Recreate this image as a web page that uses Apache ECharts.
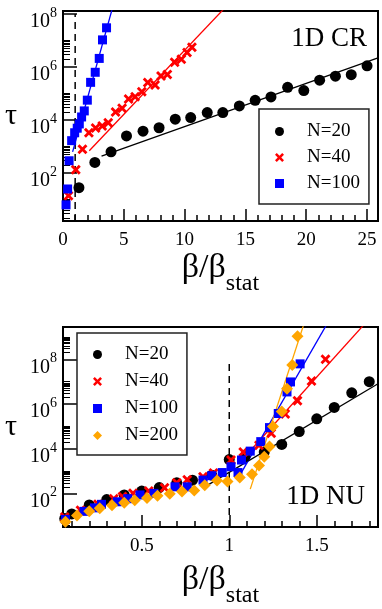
<!DOCTYPE html>
<html>
<head>
<meta charset="utf-8">
<script src="https://cdn.jsdelivr.net/npm/echarts@6/dist/echarts.min.js"></script>
<style>
html, body { margin: 0; padding: 0; background: #fff; }
#main { width: 382px; height: 609px; }
</style>
</head>
<body>
<div id="main"></div>
<script>
// ---- top panel: 1D CR ----
var crX20 = [1.31, 2.62, 3.95, 5.22, 6.58, 7.9, 9.23, 10.5, 11.86, 13.14, 14.5, 15.8, 17.1, 18.47, 19.8, 21.1, 22.4, 23.7, 25.0]
var crTau20 = [28, 250, 630, 2500, 3800, 5100, 10700, 12300, 19000, 19000, 34000, 55000, 74000, 170000, 129000, 316000, 447000, 513000, 1100000]
var crX40 = [0.45, 1.05, 1.6, 2.13, 2.68, 3.22, 3.72, 4.32, 4.86, 5.39, 5.93, 6.48, 6.97, 7.57, 8.06, 8.58, 9.18, 9.73, 10.2, 10.6]
var crTau40 = [14, 132, 780, 3300, 5000, 5900, 7900, 20000, 27500, 62000, 76000, 117000, 257000, 209000, 457000, 525000, 1.5e6, 1.95e6, 3.5e6, 5.5e6]
var crX100 = [0.25, 0.38, 0.5, 0.71, 0.96, 1.17, 1.34, 1.53, 1.75, 2.0, 2.27, 2.65, 2.98, 3.25, 3.58]
var crTau100 = [6.3, 25, 290, 1660, 3300, 4900, 7100, 13000, 22000, 56000, 263000, 630000, 2.1e6, 1.05e7, 3.0e7]
// fitted lines (end points)
var crFitX20 = [3.17, 25.9], crFitTau20 = [437, 2.2e6]
var crFitX40 = [2.16, 13.5], crFitTau40 = [690, 2.1e8]
var crFitX100 = [0.79, 4.2], crFitTau100 = [630, 2.8e8]
var crRangeY = [1.55, 1.29e8]
var crRangeX = [0, 25.9]

// ---- bottom panel: 1D NU ----
var nuX20 = [0.06, 0.1, 0.2, 0.3, 0.4, 0.5, 0.6, 0.7, 0.79, 0.9, 1.0, 1.09, 1.2, 1.3, 1.4, 1.5, 1.6, 1.7, 1.8]
var nuTau20 = [7.6, 12.3, 31, 54, 87, 129, 186, 302, 398, 660, 3300, 4500, 7200, 15800, 59000, 219000, 708000, 3.2e6, 1.0e7]
var nuX40 = [0.06, 0.15, 0.25, 0.34, 0.39, 0.45, 0.54, 0.63, 0.7, 0.76, 0.85, 0.91, 1.01, 1.08, 1.17, 1.24, 1.32, 1.39, 1.47, 1.55]
var nuTau40 = [9, 18, 33, 59, 74, 102, 129, 182, 302, 417, 562, 830, 3160, 7200, 14500, 50000, 363000, 1.4e6, 1.07e7, 1.0e8]
var nuX100 = [0.064, 0.17, 0.23, 0.27, 0.36, 0.42, 0.49, 0.57, 0.69, 0.76, 0.85, 0.9, 0.96, 1.01, 1.05, 1.07, 1.12, 1.18, 1.23, 1.28, 1.33, 1.35, 1.405]
var nuTau100 = [7, 16, 23, 33, 43, 59, 87, 102, 200, 200, 400, 630, 870, 1580, 870, 3160, 7900, 21000, 89000, 380000, 3.5e6, 9.8e6, 6.3e7]
var nuX200 = [0.064, 0.13, 0.2, 0.26, 0.33, 0.4, 0.46, 0.53, 0.59, 0.66, 0.73, 0.8, 0.86, 0.93, 0.99, 1.06, 1.13, 1.17, 1.2, 1.23, 1.25, 1.3, 1.33, 1.36, 1.39]
var nuTau200 = [5.5, 10.5, 16, 22, 30, 39, 50, 63, 79, 98, 123, 138, 234, 380, 347, 525, 725, 1780, 4470, 12600, 100000, 468000, 4.8e6, 5.6e7, 1.07e9]
var nuFitX20 = [0.86, 1.85], nuFitTau20 = [200, 8.1e6]
var nuFitX40 = [1.08, 1.8], nuFitTau40 = [3700, 6.5e9]
var nuFitX100 = [1.07, 1.56], nuFitTau100 = [890, 4e9]
var nuFitX200 = [1.12, 1.44], nuFitTau200 = [158, 8e9]
var nuRangeY = [3.2, 2.8e9]
var nuRangeX = [0.05, 1.85]

// ticks
var majorY = [1e2, 1e4, 1e6, 1e8]
var nuMajorX = [0.5, 1, 1.5]
var nuMinorX = [0.1, 0.2, 0.3, 0.4, 0.6, 0.7, 0.8, 0.9, 1.1, 1.2, 1.3, 1.4, 1.6, 1.7, 1.8]
var statX = [1, 1]
var statTauTop = 1e8

var minorY = []
;[0, 2, 4, 6, 8].forEach(function (e) {
    for (var k = 2; k <= 10; k++) minorY.push(k * Math.pow(10, e))
})

var FONT = "'Liberation Serif', 'DejaVu Serif', serif"
var crossPath = 'path://M0,2L2,0L5,3L8,0L10,2L7,5L10,8L8,10L5,7L2,10L0,8L3,5Z'

function zip(xs, ys) {
    return xs.map(function (x, i) { return [x, ys[i]] })
}

function pts(name, xs, ys, xi, yi, symbol, size, color) {
    return {
        name: name, type: 'scatter', xAxisIndex: xi, yAxisIndex: yi,
        data: zip(xs, ys), symbol: symbol, symbolSize: size,
        itemStyle: { color: color, opacity: 1 }, z: 3
    }
}

function fit(xs, ys, xi, yi, color) {
    return {
        type: 'line', xAxisIndex: xi, yAxisIndex: yi, data: zip(xs, ys),
        showSymbol: false, symbol: 'none', silent: true, clip: true,
        lineStyle: { color: color, width: 1.3 }, z: 2
    }
}

function dashed(ymin, xi, yi) {
    return {
        type: 'line', xAxisIndex: xi, yAxisIndex: yi,
        data: zip(statX, [ymin, statTauTop]), symbol: 'none', silent: true,
        lineStyle: { color: '#000', width: 1.5, type: [7, 5] }, z: 1
    }
}

var yLabel = {
    fontFamily: FONT, color: '#000', margin: 6, padding: [10, 0, 0, 0],
    customValues: majorY,
    formatter: function (v) {
        return '{b|10}{e|' + Math.round(Math.log10(v)) + '}'
    },
    rich: {
        b: { fontFamily: FONT, fontSize: 20, color: '#000', verticalAlign: 'bottom' },
        e: { fontFamily: FONT, fontSize: 14, color: '#000', verticalAlign: 'bottom', padding: [0, 0, 12, 0] }
    }
}

function yMain(range, grid) {
    return {
        type: 'log', gridIndex: grid, min: range[0], max: range[1], position: 'left',
        name: 'τ', nameLocation: 'middle', nameRotate: 0, nameGap: 46,
        nameTextStyle: { fontFamily: FONT, fontSize: 30, color: '#000' },
        axisLine: { lineStyle: { color: '#000', width: 2 } },
        axisTick: { inside: true, length: 14, customValues: majorY, lineStyle: { color: '#000', width: 1.5 } },
        axisLabel: yLabel,
        splitLine: { show: false }
    }
}

function yMinor(range, grid) {
    return {
        type: 'log', gridIndex: grid, min: range[0], max: range[1], position: 'left',
        axisLine: { show: false },
        axisTick: { inside: true, length: 7, customValues: minorY, lineStyle: { color: '#000', width: 1 } },
        axisLabel: { show: false },
        splitLine: { show: false }
    }
}

var xName = '{a|β/β}{s|stat}'
var xNameStyle = {
    rich: {
        a: { fontFamily: FONT, fontSize: 34, color: '#000', verticalAlign: 'top', padding: [0, 0, 11, 0] },
        s: { fontFamily: FONT, fontSize: 24, color: '#000', verticalAlign: 'bottom' }
    }
}
var xLabel = { fontFamily: FONT, fontSize: 19, color: '#000', margin: 10 }

var option = {
    animation: false,
    backgroundColor: '#fff',
    textStyle: { fontFamily: FONT },
    title: [
        { text: '1D CR', right: 10, top: 20, textStyle: { fontFamily: FONT, fontSize: 27, fontWeight: 'normal', color: '#000' } },
        { text: '1D NU', right: 12, top: 478, textStyle: { fontFamily: FONT, fontSize: 27, fontWeight: 'normal', color: '#000' } }
    ],
    grid: [
        { left: 63, right: 4, top: 11, bottom: 388, show: true, borderColor: '#000', borderWidth: 2 },
        { left: 63, right: 4, top: 327, bottom: 72, show: true, borderColor: '#000', borderWidth: 2 }
    ],
    legend: [
        {
            data: ['N=20', 'N=40', 'N=100'], orient: 'vertical', left: 259, top: 109,
            padding: [13, 9, 11, 16], itemGap: 7, itemWidth: 9, itemHeight: 9,
            borderColor: '#222', borderWidth: 1.5, backgroundColor: '#fff',
            textStyle: { fontFamily: FONT, fontSize: 19, color: '#000', padding: [0, 0, 0, 18] }
        },
        {
            data: ['N=20', 'N=40', 'N=100', 'N=200'], orient: 'vertical', left: 77, top: 333,
            padding: [12, 9, 10, 16], itemGap: 8, itemWidth: 9, itemHeight: 9,
            borderColor: '#222', borderWidth: 1.5, backgroundColor: '#fff',
            textStyle: { fontFamily: FONT, fontSize: 19, color: '#000', padding: [0, 0, 0, 18] }
        }
    ],
    xAxis: [
        {
            type: 'value', gridIndex: 0, min: crRangeX[0], max: crRangeX[1], interval: 5,
            name: xName, nameLocation: 'middle', nameGap: 30, nameTextStyle: xNameStyle,
            axisLine: { lineStyle: { color: '#000', width: 2 } },
            axisTick: { inside: true, length: 12, lineStyle: { color: '#000', width: 1.5 } },
            minorTick: { show: true, splitNumber: 5, length: 6, lineStyle: { color: '#000', width: 1.5 } },
            axisLabel: xLabel,
            splitLine: { show: false }
        },
        {
            type: 'value', gridIndex: 1, min: nuRangeX[0], max: nuRangeX[1], position: 'bottom',
            name: xName, nameLocation: 'middle', nameGap: 36, nameTextStyle: xNameStyle,
            axisLine: { lineStyle: { color: '#000', width: 2 } },
            axisTick: { inside: true, length: 12, customValues: nuMajorX, lineStyle: { color: '#000', width: 1.5 } },
            axisLabel: Object.assign({ customValues: nuMajorX }, xLabel),
            splitLine: { show: false }
        },
        {
            type: 'value', gridIndex: 1, min: nuRangeX[0], max: nuRangeX[1], position: 'bottom',
            axisLine: { show: false },
            axisTick: { inside: true, length: 6, customValues: nuMinorX, lineStyle: { color: '#000', width: 1.5 } },
            axisLabel: { show: false },
            splitLine: { show: false }
        }
    ],
    yAxis: [
        yMain(crRangeY, 0),
        yMinor(crRangeY, 0),
        yMain(nuRangeY, 1),
        yMinor(nuRangeY, 1)
    ],
    series: [
        dashed(crRangeY[0], 0, 0),
        fit(crFitX20, crFitTau20, 0, 0, '#000'),
        fit(crFitX40, crFitTau40, 0, 0, '#ff0000'),
        fit(crFitX100, crFitTau100, 0, 0, '#0000ff'),
        pts('N=20', crX20, crTau20, 0, 0, 'circle', 11, '#000'),
        pts('N=40', crX40, crTau40, 0, 0, crossPath, 10, '#ff0000'),
        pts('N=100', crX100, crTau100, 0, 0, 'rect', 9, '#0000ff'),

        dashed(nuRangeY[0], 1, 2),
        fit(nuFitX20, nuFitTau20, 1, 2, '#000'),
        fit(nuFitX40, nuFitTau40, 1, 2, '#ff0000'),
        fit(nuFitX100, nuFitTau100, 1, 2, '#0000ff'),
        fit(nuFitX200, nuFitTau200, 1, 2, '#ffa500'),
        pts('N=20', nuX20, nuTau20, 1, 2, 'circle', 11, '#000'),
        pts('N=40', nuX40, nuTau40, 1, 2, crossPath, 10, '#ff0000'),
        pts('N=100', nuX100, nuTau100, 1, 2, 'rect', 9, '#0000ff'),
        pts('N=200', nuX200, nuTau200, 1, 2, 'diamond', 12, '#ffa500')
    ]
}

var myChart = echarts.init(document.getElementById('main'))
option && myChart.setOption(option)
</script>
</body>
</html>
